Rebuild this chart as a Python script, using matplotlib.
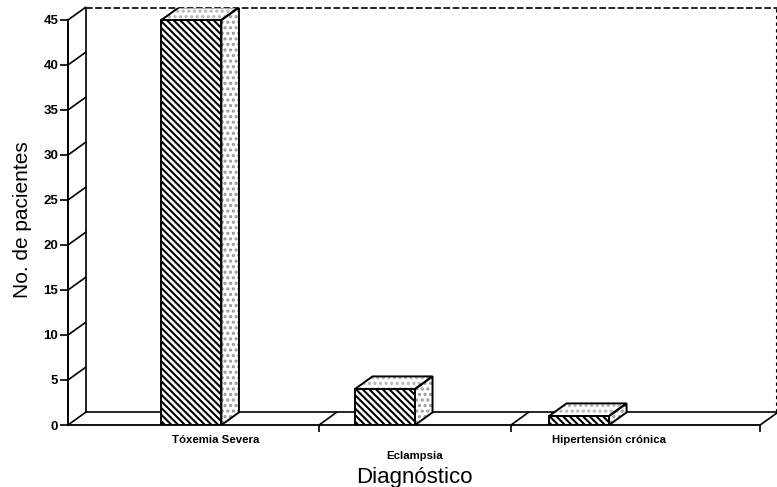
import matplotlib
matplotlib.use("Agg")
import matplotlib.pyplot as plt
from matplotlib.patches import Polygon
import matplotlib.transforms as mtransforms

plt.rcParams['font.family'] = ['Liberation Sans', 'DejaVu Sans']
plt.rcParams['hatch.linewidth'] = 1.5

# data
categorias = ['Tóxemia Severa', 'Eclampsia', 'Hipertensión crónica']
pacientes = [45, 4, 1]
yticks = [0, 5, 10, 15, 20, 25, 30, 35, 40, 45]

# layout (x in category units, y in patient units)
xpos = [0.535, 1.374, 2.215]
xlab = [0.642, 1.50, 2.345]
limites = [1.088, 1.920, 3.0]
ancho = 0.26
dx, dy = 0.076, 1.4   # depth offset of the 3D effect
xmax, ymax = 3.073, 46.33

fig = plt.figure(figsize=(7.77, 4.87), dpi=100)
ax = fig.add_axes([68/777, 62/487, 709/777, 417/487])
ax.set_xlim(0, xmax)
ax.set_ylim(0, ymax)

for s in ['top', 'right']:
    ax.spines[s].set_visible(False)
ax.spines['left'].set_bounds(0, 45)
ax.spines['bottom'].set_bounds(0, 3)
ax.spines['left'].set_linewidth(1.4)
ax.spines['bottom'].set_linewidth(1.3)

lw = 1.2
# back wall
ax.plot([dx, dx], [dy, ymax], color='black', lw=lw, clip_on=False)
ax.plot([dx, xmax], [ymax, ymax], color='black', lw=lw, ls=(0, (4, 1.5)), clip_on=False)
ax.plot([xmax - 0.004, xmax - 0.004], [dy, ymax], color='black', lw=0.8,
        ls=(0, (3, 3)), clip_on=False)
# floor back edge
ax.plot([dx, 3 + dx], [dy, dy], color='black', lw=lw, clip_on=False)
# floor diagonals at category limits
for b in limites:
    ax.plot([b, b + dx], [0, dy], color='black', lw=lw, clip_on=False)
# diagonals from y ticks to the back wall
for v in yticks:
    ax.plot([0, dx], [v, v + dy], color='black', lw=lw, clip_on=False)

# bars
for x, v in zip(xpos, pacientes):
    x0, x1 = x - ancho / 2, x + ancho / 2
    ax.bar(x, v, width=ancho, color='white', edgecolor='black',
           hatch='\\\\\\\\\\', linewidth=1.4, zorder=3)
    side = [(x1, 0), (x1 + dx, dy), (x1 + dx, v + dy), (x1, v)]
    top = [(x0, v), (x0 + dx, v + dy), (x1 + dx, v + dy), (x1, v)]
    ax.add_patch(Polygon(side, closed=True, facecolor='white', edgecolor='0.6',
                         hatch='...', linewidth=0, zorder=3))
    ax.add_patch(Polygon(side, closed=True, fill=False, edgecolor='black',
                         linewidth=1.4, zorder=4))
    ax.add_patch(Polygon(top, closed=True, facecolor='white', edgecolor='0.7',
                         hatch='...', linewidth=0, zorder=3))
    ax.add_patch(Polygon(top, closed=True, fill=False, edgecolor='black',
                         linewidth=1.4, zorder=4))

# ticks
ax.set_yticks(yticks)
ax.tick_params(axis='y', direction='out', length=6, width=1.2, pad=1,
               labelsize=9.5)
for t in ax.get_yticklabels():
    t.set_fontweight('bold')
ax.set_xticks(xlab)
ax.set_xticklabels(categorias, fontsize=8.2, fontweight='bold')
ax.tick_params(axis='x', which='major', length=0, pad=7)
ax.set_xticks(limites, minor=True)
ax.tick_params(axis='x', which='minor', direction='out', length=5, width=1.2)

lbl = ax.get_xticklabels()[1]
lbl.set_transform(lbl.get_transform() +
                  mtransforms.ScaledTranslation(0, -16/100, fig.dpi_scale_trans))

ax.set_ylabel('No. de pacientes', fontsize=15)
ax.yaxis.set_label_coords(-0.051, 0.493)
ax.set_xlabel('Diagnóstico', fontsize=16)
ax.xaxis.set_label_coords(0.489, -0.1)

fig.savefig('out.png', dpi=100)
